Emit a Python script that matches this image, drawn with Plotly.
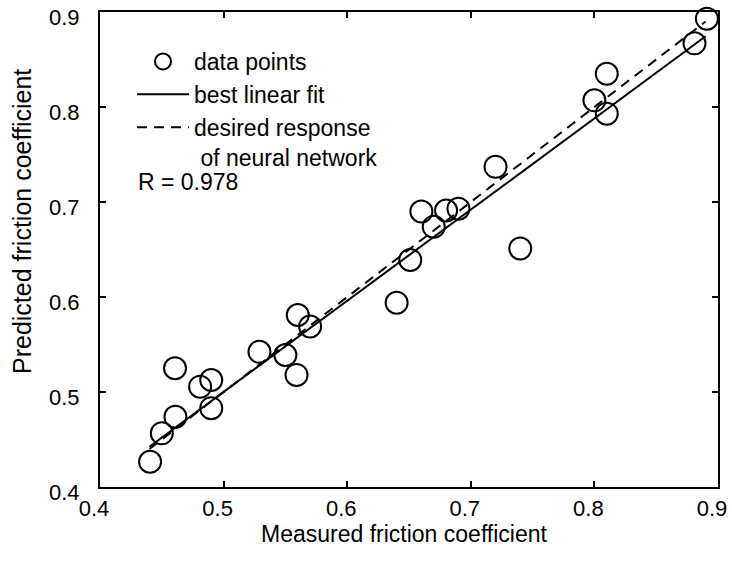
import plotly.graph_objects as go

# measured (x) vs predicted (y) friction coefficients
measured = [0.4405, 0.450, 0.461, 0.4607, 0.481, 0.490, 0.490, 0.529, 0.550, 0.559,
            0.560, 0.570, 0.640, 0.651, 0.660, 0.670, 0.680, 0.690, 0.720, 0.740,
            0.800, 0.810, 0.810, 0.881, 0.891]
predicted = [0.4266, 0.4565, 0.474, 0.525, 0.5056, 0.5126, 0.483, 0.5424, 0.539, 0.518,
             0.581, 0.569, 0.594, 0.639, 0.690, 0.674, 0.691, 0.693, 0.737, 0.651,
             0.807, 0.835, 0.793, 0.867, 0.893]

fit_x = [0.44, 0.89]
fit_y = [0.4424, 0.8744]
ideal_x = [0.44, 0.89]
ideal_y = [0.44, 0.89]

ticks = [0.4, 0.5, 0.6, 0.7, 0.8, 0.9]
tick_text = ["0.4", "0.5", "0.6", "0.7", "0.8", "0.9"]

FONT = "Liberation Sans, Arial, sans-serif"
FS = 23

fig = go.Figure()
fig.add_trace(go.Scatter(
    x=measured, y=predicted, mode="markers", name="data points",
    marker=dict(symbol="circle-open", size=22, color="black", line=dict(width=2, color="black")),
    cliponaxis=False))
fig.add_trace(go.Scatter(
    x=fit_x, y=fit_y, mode="lines", name="best linear fit",
    line=dict(color="black", width=2)))
fig.add_trace(go.Scatter(
    x=ideal_x, y=ideal_y, mode="lines", name="desired response<br>\u00a0of neural network",
    line=dict(color="black", width=2, dash="10px,7px")))

axis_common = dict(
    range=[0.4, 0.9], tickvals=ticks, ticktext=tick_text,
    ticks="inside", ticklen=6, tickwidth=2, tickcolor="black",
    showline=True, linecolor="black", linewidth=2, mirror="ticks",
    showgrid=False, zeroline=False, automargin=False,
    ticklabeloverflow="allow",
    tickfont=dict(family=FONT, size=22, color="black"),
)

fig.update_xaxes(**axis_common, ticklabelstandoff=1, ticklabelshift=-6)
fig.update_yaxes(**axis_common, ticklabelstandoff=14, ticklabelshift=5)

fig.add_annotation(text="Measured friction coefficient", xref="paper", yref="paper",
                   x=(404 - 100) / 618, y=(487 - 534) / 475, xanchor="center", yanchor="middle",
                   showarrow=False, font=dict(family=FONT, size=FS, color="black"))

fig.add_annotation(text="Predicted friction coefficient", xref="paper", yref="paper",
                   x=(22 - 100) / 618, y=(487 - 222) / 475, xanchor="center", yanchor="middle",
                   textangle=-90, showarrow=False,
                   font=dict(family=FONT, size=25, color="black"))

fig.add_annotation(text="R = 0.978", xref="paper", yref="paper",
                   x=(136 - 100) / 618, y=(487 - 182) / 475, xanchor="left", yanchor="middle",
                   showarrow=False, font=dict(family=FONT, size=FS, color="black"))

fig.update_layout(
    width=732, height=561,
    margin=dict(l=100, r=14, t=12, b=74),
    paper_bgcolor="white", plot_bgcolor="white",
    showlegend=True,
    legend=dict(x=(132 - 100) / 618, y=(487 - 40) / 475, xanchor="left", yanchor="top",
                bgcolor="rgba(0,0,0,0)", font=dict(family=FONT, size=FS, color="black"),
                itemwidth=52, valign="top", tracegroupgap=0),
)

fig.write_html("out.html")
